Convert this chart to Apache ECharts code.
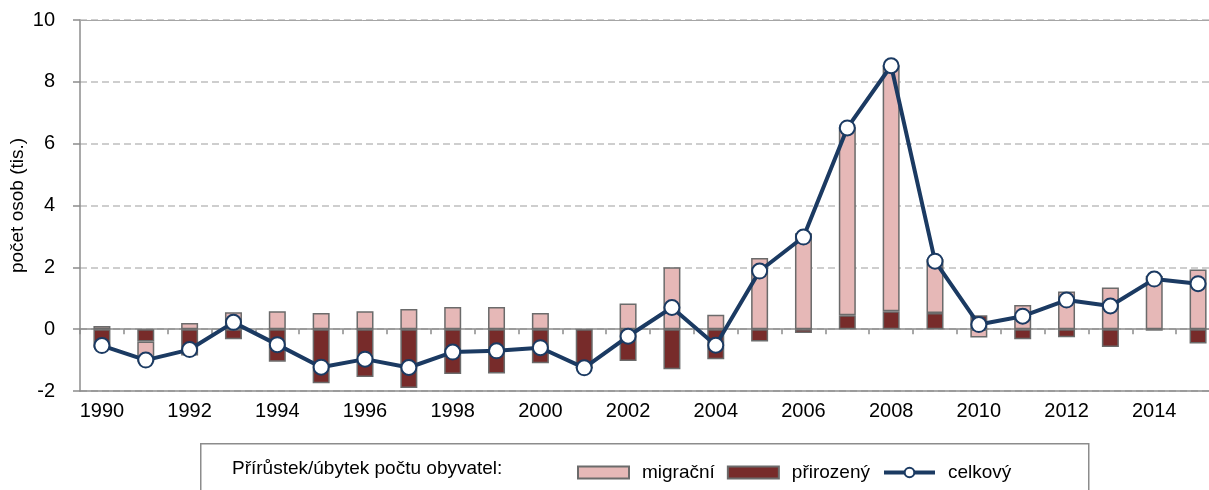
<!DOCTYPE html>
<html>
<head>
<meta charset="utf-8">
<script src="https://cdn.jsdelivr.net/npm/echarts@6/dist/echarts.min.js"></script>
<style>
  html, body { margin: 0; padding: 0; background: #fff; }
  #chart { width: 1209px; height: 490px; }
</style>
</head>
<body>
<div id="chart"></div>
<script>
// Roky 1990–2015
const years = ['1990','1991','1992','1993','1994','1995','1996','1997','1998','1999',
  '2000','2001','2002','2003','2004','2005','2006','2007','2008','2009',
  '2010','2011','2012','2013','2014','2015'];

// přírůstek/úbytek v tis. osob
const migracni = [0.1, -0.65, 0.2, 0.55, 0.58, 0.52, 0.58, 0.65, 0.72, 0.72,
  0.52, 0, 0.83, 2.0, 0.47, 2.3, 3.1, 6.08, 7.95, 1.75,
  -0.27, 0.78, 1.22, 1.35, 1.72, 1.93];
const prirozeny = [-0.6, -0.4, -0.85, -0.33, -1.05, -1.75, -1.55, -1.9, -1.45, -1.43,
  -1.1, -1.25, -1.03, -1.3, -0.97, -0.4, -0.12, 0.45, 0.58, 0.52,
  0.45, -0.33, -0.26, -0.58, -0.05, -0.46];
const celkovy = [-0.53, -1.0, -0.66, 0.22, -0.5, -1.23, -0.97, -1.24, -0.74, -0.7,
  -0.6, -1.25, -0.23, 0.7, -0.52, 1.88, 2.98, 6.51, 8.52, 2.2,
  0.15, 0.42, 0.94, 0.75, 1.62, 1.47];

const yTicks = { min: -2, max: 10, interval: 2 };

const FONT = '"Liberation Sans", Arial, sans-serif';
const AXIS_GRAY = '#8c8c8c';
const PINK = '#e6b8b7';
const DARK = '#772b2a';
const NAVY = '#1b3a62';
const BORDER = '#6b6b6b';

const chart = echarts.init(document.getElementById('chart'));

chart.setOption({
  animation: false,
  textStyle: { fontFamily: FONT },
  grid: { left: 80, right: -11, top: 20, bottom: 99, containLabel: false, outerBoundsMode: 'none' },
  xAxis: [
    {
      type: 'category', data: years, position: 'bottom',
      axisLine: { onZero: false, lineStyle: { color: AXIS_GRAY, width: 1.5 } },
      axisTick: { show: false },
      axisLabel: { interval: 1, color: '#000', fontSize: 20, margin: 10, fontFamily: FONT }
    },
    {
      // osa v nule s ryskami
      type: 'category', data: years, position: 'bottom',
      axisLine: { onZero: true, lineStyle: { color: AXIS_GRAY, width: 1.5 } },
      axisTick: { show: true, interval: 0, length: 5, lineStyle: { color: AXIS_GRAY, width: 1.5 } },
      axisLabel: { show: false }
    },
    {
      type: 'category', data: years, position: 'top',
      axisLine: { onZero: false, lineStyle: { color: '#a6a6a6', width: 1 } },
      axisTick: { show: false }, axisLabel: { show: false }
    }
  ],
  yAxis: {
    type: 'value', min: yTicks.min, max: yTicks.max, interval: yTicks.interval,
    name: 'počet osob (tis.)', nameLocation: 'middle', nameGap: 53, nameMoveOverlap: false,
    nameTextStyle: { fontSize: 19, color: '#000', fontFamily: FONT },
    axisLine: { show: true, lineStyle: { color: AXIS_GRAY, width: 1.5 } },
    axisTick: { show: true, length: 7, lineStyle: { color: AXIS_GRAY, width: 1.5 } },
    axisLabel: { color: '#000', fontSize: 20, margin: 25, fontFamily: FONT },
    splitLine: { show: true, lineStyle: { color: '#bfbfbf', type: [7, 4], width: 1.5 } }
  },
  legend: {
    data: [
      { name: 'migrační', icon: 'rect' },
      { name: 'přirozený', icon: 'rect' },
      { name: 'celkový', lineStyle: { width: 4, color: NAVY } }
    ],
    left: 572, top: 458,
    itemWidth: 51, itemHeight: 12, itemGap: 12,
    textStyle: { fontSize: 19, color: '#000', fontFamily: FONT, padding: [0, 0, 0, 8] }
  },
  graphic: [
    {
      type: 'rect', left: 200, top: 443, z: -1,
      shape: { width: 888, height: 60 },
      style: { fill: '#fff', stroke: '#8c8c8c', lineWidth: 1.5 }
    },
    {
      type: 'text', left: 232, top: 459,
      style: { text: 'Přírůstek/úbytek počtu obyvatel:', fontSize: 19, fontFamily: FONT, fill: '#000' }
    }
  ],
  series: [
    {
      name: 'přirozený', type: 'bar', stack: 'a', data: prirozeny, barWidth: 17,
      itemStyle: { color: DARK, borderColor: BORDER, borderWidth: 1.5 }
    },
    {
      name: 'migrační', type: 'bar', stack: 'a', data: migracni, barWidth: 17,
      itemStyle: { color: PINK, borderColor: BORDER, borderWidth: 1.5 }
    },
    {
      name: 'celkový', type: 'line', data: celkovy, z: 5,
      symbol: 'circle', symbolSize: 15, showAllSymbol: true,
      lineStyle: { color: NAVY, width: 4 },
      itemStyle: { color: '#fff', borderColor: NAVY, borderWidth: 2 }
    }
  ]
});
</script>
</body>
</html>
